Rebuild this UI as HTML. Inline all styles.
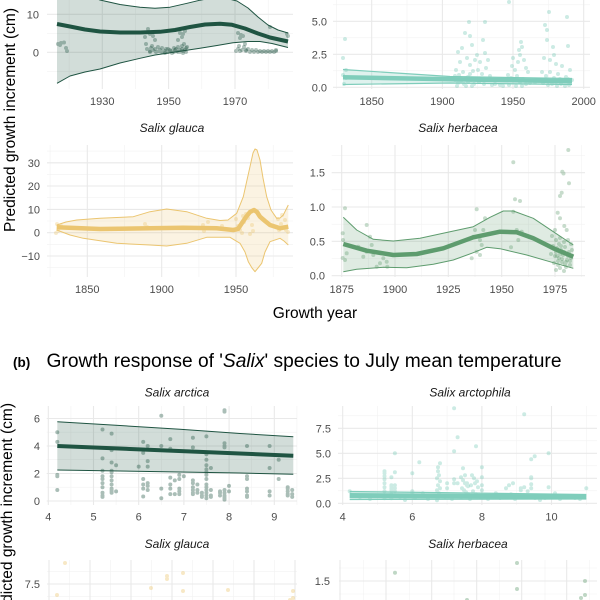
<!DOCTYPE html>
<html><head><meta charset="utf-8"><style>
html,body{margin:0;padding:0;background:#fff;}
svg{display:block;}
text{font-family:"Liberation Sans",Arial,sans-serif;}
.t{font-size:11px;fill:#4d4d4d;}
.s{font-size:12px;fill:#1a1a1a;font-style:italic;}
.gM{stroke:#e9e9e9;stroke-width:1.1;fill:none;}
.gm{stroke:#f2f2f2;stroke-width:0.6;fill:none;}
</style></head><body>
<svg width="600" height="600" viewBox="0 0 600 600" xmlns="http://www.w3.org/2000/svg">
<rect width="600" height="600" fill="#fff"/>

<!-- ========== A1: Salix arctica vs year ========== -->
<g>
<path class="gm" d="M47 -4.7H293M47 33.3H293M47 71.3H293M69.1 0V89M135.5 0V89M201.8 0V89M268.2 0V89"/>
<path class="gM" d="M47 14.3H293M47 52.3H293M102.3 0V89M168.6 0V89M235 0V89"/>
<g stroke="#1f5442" stroke-opacity="0.35" stroke-width="4" stroke-linecap="round" fill="none">
<path d="M58 44h0M61 43h0M64 42.5h0M66 48h0M67 51h0M60 45h0M145 37h0M150 34h0M153 36h0M148 29h0M155 40h0M183 34h0M185 31h0M182 37h0M178 40h0M180 33h0M146 44h0M152 46h0M158 47h0M162 48h0M166 49h0M170 50h0M174 48h0M178 47h0M182 49h0M186 48h0M238 33h0M241 35h0M240 38h0M243 36h0M270 27h0M287 34h0M288 36h0M239 46h0M244 47h0M248 49h0M252 50h0M256 50h0M260 51h0M264 51h0M268 51h0M272 51h0M276 51h0"/>
<path d="M147 49h0M150 51h0M153 50h0M156 52h0M159 51h0M162 52h0M165 51h0M168 52h0M171 51h0M174 52h0M177 51h0M180 50h0M183 51h0M186 52h0M187 47h0M184 44h0M160 50h0M168 49h0M176 49h0M151 48h0M238 49h0M242 50h0M246 51h0M250 52h0M254 52h0M258 52h0M262 52h0M266 52h0M270 52h0M274 52h0M276 50h0M236 51h0M245 44h0"/>
<path d="M180 52h0M183 53h0M185 50h0M178 52h0M172 53h0M165 53h0M150 52h0M155 49h0M246 50h0M240 51h0M182 46h0M175 50h0"/>
</g>
<path fill="#1f5442" fill-opacity="0.2" stroke="none" d="M57 -31L70 -16L85 -6L100 0L120 4.5L140 7.3L155 8.3L170 7.2L187 3.3L200 0.2L212 -2L225 -2L237 1L248 8L258 17L268 25L278 30L288 33L288 47.5L272 43.5L260 41.5L248 41.5L233 42.7L217 45.5L200 48.3L185 50.5L167 53.3L155 55L140 58.3L120 63L100 69L85 72L70 76L57 83.3Z"/>
<g fill="none" stroke="#1f5442" stroke-linejoin="round">
<path stroke-width="1" d="M57 -31L70 -16L85 -6L100 0L120 4.5L140 7.3L155 8.3L170 7.2L187 3.3L200 0.2L212 -2L225 -2L237 1L248 8L258 17L268 25L278 30L288 33"/>
<path stroke-width="1" d="M57 83.3L70 76L85 72L100 69L120 63L140 58.3L155 55L167 53.3L185 50.5L200 48.3L217 45.5L233 42.7L248 41.5L260 41.5L272 43.5L288 47.5"/>
<path stroke-width="4" d="M57 24L70 26.5L85 29.5L100 31.5L120 32.5L140 32.5L160 31.8L175 30L190 27L205 24.5L220 23.7L232 24.8L245 28.5L258 33.5L270 37.5L288 41.5"/>
</g>
<text class="t" x="39" y="18.3" text-anchor="end">10</text>
<text class="t" x="39" y="56.3" text-anchor="end">0</text>
<text class="t" x="102.3" y="105" text-anchor="middle">1930</text>
<text class="t" x="168.6" y="105" text-anchor="middle">1950</text>
<text class="t" x="235" y="105" text-anchor="middle">1970</text>
</g>

<!-- ========== A2: Salix arctophila vs year ========== -->
<g>
<path class="gm" d="M333 4.8H590M333 37.8H590M333 70.8H590M336.4 0V89M407 0V89M477.7 0V89M548.3 0V89"/>
<path class="gM" d="M333 21.3H590M333 54.3H590M333 87.3H590M371.7 0V89M442.4 0V89M513 0V89M583.7 0V89"/>
<g stroke="#7fcdbb" stroke-opacity="0.4" stroke-width="4" stroke-linecap="round" fill="none">
<path d="M343 58h0M345 39h0M346 70h0M343 75h0M346 78h0M344 84h0M465 33h0M469 22h0M470 36h0M472 45h0M462 48h0M458 52h0M467 58h0M475 60h0M460 62h0M470 65h0M477 55h0M456 70h0M459 75h0M463 72h0M466 78h0M470 74h0M473 71h0M455 80h0M458 83h0M461 81h0M464 84h0M468 82h0M471 80h0M474 84h0M457 86h0M466 86h0M472 86h0M485 22h0M483 40h0M485 53h0M480 62h0M488 60h0M478 70h0M482 74h0M486 68h0M490 76h0M479 82h0M484 84h0M489 80h0M492 85h0M509 2h0M521 42h0M522 47h0M520 55h0M518 62h0M524 60h0M512 66h0M515 70h0M526 68h0M528 72h0M508 75h0M511 78h0M514 80h0M517 76h0M520 82h0M523 79h0M526 84h0M509 85h0M516 86h0M522 86h0M513 58h0M519 50h0"/>
<path d="M549 12h0M545 25h0M547 30h0M547 40h0M553 47h0M554 55h0M567 17h0M568 46h0M550 60h0M556 64h0M544 58h0M562 66h0M570 70h0M542 72h0M546 76h0M550 72h0M554 78h0M558 74h0M562 80h0M566 77h0M570 82h0M543 83h0M548 85h0M552 84h0M557 86h0M561 84h0M565 86h0M569 85h0M572 80h0M538 80h0M535 82h0M530 83h0M495 84h0M500 85h0M503 86h0M455 76h0M460 78h0M468 77h0M475 79h0M550 81h0M556 82h0M560 79h0M564 81h0M568 79h0"/>
</g>
<path fill="#7fcdbb" fill-opacity="0.25" d="M343 69.5L450 76.5L572 78.5L572 84.5L450 83L343 84.5Z"/>
<g fill="none" stroke="#7fcdbb">
<path stroke-width="1.2" d="M343 69.5L450 76.5L572 78.5"/>
<path stroke-width="1.2" d="M343 84.5L450 83L572 84.5"/>
<path stroke-width="4.5" d="M343 77.3L572 81.3"/>
</g>
<text class="t" x="327" y="25.3" text-anchor="end">5.0</text>
<text class="t" x="327" y="58.3" text-anchor="end">2.5</text>
<text class="t" x="327" y="91.3" text-anchor="end">0.0</text>
<text class="t" x="371.7" y="105" text-anchor="middle">1850</text>
<text class="t" x="442.4" y="105" text-anchor="middle">1900</text>
<text class="t" x="513" y="105" text-anchor="middle">1950</text>
<text class="t" x="583.7" y="105" text-anchor="middle">2000</text>
</g>

<!-- strip titles row 2 (a) -->
<text class="s" x="172" y="132" text-anchor="middle">Salix glauca</text>
<text class="s" x="458" y="132" text-anchor="middle">Salix herbacea</text>

<!-- ========== A3: Salix glauca vs year ========== -->
<g>
<path class="gm" d="M47 151.1H293M47 174.4H293M47 197.7H293M47 221H293M47 244.4H293M47 267.7H293M50.1 145V277M124.5 145V277M198.9 145V277M273.2 145V277"/>
<path class="gM" d="M47 162.8H293M47 186H293M47 209.4H293M47 232.7H293M47 256H293M87.3 145V277M161.7 145V277M236 145V277"/>
<g stroke="#ebc570" stroke-opacity="0.35" stroke-width="4" stroke-linecap="round" fill="none">
<path d="M57 224h0M59 228h0M58 231h0M61 226h0M56 233h0M145 224h0M147 227h0M203 225h0M206 228h0M208 222h0M204 231h0M222 226h0M224 229h0M236 219h0M238 226h0M240 230h0M242 233h0M244 222h0M246 214h0M248 218h0M252 225h0M253 231h0M250 234h0M243 216h0M278 219h0M281 224h0M284 227h0M286 230h0M288 232h0M279 230h0M282 215h0M285 220h0"/>
</g>
<path fill="#ebc570" fill-opacity="0.2" d="M56.7 225L66 222L76.7 220L100 218.3L133.3 216.7L150 211.7L166.7 209L186.7 211.7L206.7 218.3L220 220.5L228 220L236.7 213.3L243.3 196.7L247 180L250 166.7L253 153L255 149L257 150L260 160L263 178L266.7 196.7L271 210L276.7 218.3L280 218L283.3 215L288.3 205L288.3 245L284 241L280 238.3L270 241.7L265 252L261.7 263.3L258 268L255 271.7L252 268L248.3 261.7L245 252L240 243.3L230 237.3L206.7 237.3L186.7 243.3L166.7 246L150 245L116.7 243.3L83.3 238.3L70 235L56.7 230Z"/>
<g fill="none" stroke="#ebc570" stroke-linejoin="round">
<path stroke-width="1" d="M56.7 225L66 222L76.7 220L100 218.3L133.3 216.7L150 211.7L166.7 209L186.7 211.7L206.7 218.3L220 220.5L228 220L236.7 213.3L243.3 196.7L247 180L250 166.7L253 153L255 149L257 150L260 160L263 178L266.7 196.7L271 210L276.7 218.3L280 218L283.3 215L288.3 205"/>
<path stroke-width="1" d="M56.7 230L70 235L83.3 238.3L116.7 243.3L150 245L166.7 246L186.7 243.3L206.7 237.3L230 237.3L240 243.3L245 252L248.3 261.7L252 268L255 271.7L258 268L261.7 263.3L265 252L270 241.7L280 238.3L284 241L288.3 245"/>
<path stroke-width="4.5" d="M56.7 227.3L100 229L150 228.3L183.3 227.7L216.7 228.3L233.3 230L238 229L242 223L246 217L250 212L254 210L257 212L260 216.7L265 221L270 225L280 228.3L288.3 226.7"/>
</g>
<text class="t" x="40" y="166.8" text-anchor="end">30</text>
<text class="t" x="40" y="190" text-anchor="end">20</text>
<text class="t" x="40" y="213.4" text-anchor="end">10</text>
<text class="t" x="40" y="236.7" text-anchor="end">0</text>
<text class="t" x="40" y="260" text-anchor="end">−10</text>
<text class="t" x="87.3" y="293" text-anchor="middle">1850</text>
<text class="t" x="161.7" y="293" text-anchor="middle">1900</text>
<text class="t" x="236" y="293" text-anchor="middle">1950</text>
</g>

<!-- ========== A4: Salix herbacea vs year ========== -->
<g>
<path class="gm" d="M331.7 155.5H585M331.7 189.8H585M331.7 224.2H585M331.7 258.5H585M368.3 145V277M421.7 145V277M475 145V277M528.3 145V277M581.7 145V277"/>
<path class="gM" d="M331.7 172.7H585M331.7 207H585M331.7 241.3H585M331.7 275.7H585M341.7 145V277M395 145V277M448.3 145V277M501.7 145V277M555 145V277"/>
<g stroke="#5e9c6e" stroke-opacity="0.35" stroke-width="4" stroke-linecap="round" fill="none">
<path d="M345 208.3h0M342.7 233.3h0M343 240h0M346.7 253.3h0M345 260h0M342.7 258h0M366.7 225h0M370 236.7h0M371.7 245h0M366.7 251.7h0M373.3 255h0M363.3 256.7h0M380 263.3h0M383.3 258.3h0M376.7 266.7h0M387.3 266.7h0M358.3 246.7h0M386.7 261.7h0M476.7 209.3h0M485 218.3h0M473.3 236.7h0M480 240h0M481.7 245h0M476.7 251.7h0M471.7 258.3h0M480 255h0M483.3 230h0M475 230h0M513.3 162.3h0M515 199.3h0M520 201h0M513.3 211.7h0M516.7 230h0M521.7 231.7h0M511 247.3h0M518.3 240h0"/>
<path d="M568.3 150h0M562.3 171.7h0M563.5 173.5h0M569 183.3h0M561.7 192.7h0M560 196h0M557.7 212.7h0M560 218.3h0M564.3 226h0M566.7 230h0M555 230h0M552 236h0M556 240h0M560 238h0M564 242h0M568 240h0M571 244h0M553 246h0M557 248h0M561 250h0M565 247h0M569 252h0M572 250h0M551 254h0M555 256h0M559 258h0M563 255h0M567 260h0M571 258h0M554 263h0M558 265h0M562 262h0M566 267h0M570 265h0M556 270h0M560 268h0M564 271h0"/>
<path d="M556 252h0M560 254h0M564 252h0M568 256h0M558 261h0M562 259h0M566 262h0M570 261h0M561 246h0M565 264h0M559 244h0M557 256h0"/>
</g>
<path fill="#5e9c6e" fill-opacity="0.2" d="M343.3 217.3L356.7 230L373.3 239.3L393.3 241L420 238.3L450 231.7L473.3 226.7L490 217.3L503.3 211L513.3 211L533.3 218.3L553.3 231.7L573.3 245L573.3 268.3L553.3 262.7L526.7 255L500 248.7L486.7 247.3L473.3 252.7L453.3 260L433.3 264.3L406.7 267.7L383.3 267.3L356.7 269.3L343.3 271.7Z"/>
<g fill="none" stroke="#5e9c6e" stroke-linejoin="round">
<path stroke-width="1" d="M343.3 217.3L356.7 230L373.3 239.3L393.3 241L420 238.3L450 231.7L473.3 226.7L490 217.3L503.3 211L513.3 211L533.3 218.3L553.3 231.7L573.3 245"/>
<path stroke-width="1" d="M343.3 271.7L356.7 269.3L383.3 267.3L406.7 267.7L433.3 264.3L453.3 260L473.3 252.7L486.7 247.3L500 248.7L526.7 255L553.3 262.7L573.3 268.3"/>
<path stroke-width="4.5" d="M343.3 244L366.7 250.7L393.3 255L416.7 254L443.3 248.3L473.3 237.3L500 231.7L516.7 232.3L533.3 238.3L553.3 248.3L573.3 256.7"/>
</g>
<text class="t" x="325" y="176.7" text-anchor="end">1.5</text>
<text class="t" x="325" y="211" text-anchor="end">1.0</text>
<text class="t" x="325" y="245.3" text-anchor="end">0.5</text>
<text class="t" x="325" y="279.7" text-anchor="end">0.0</text>
<text class="t" x="341.7" y="293" text-anchor="middle">1875</text>
<text class="t" x="395" y="293" text-anchor="middle">1900</text>
<text class="t" x="448.3" y="293" text-anchor="middle">1925</text>
<text class="t" x="501.7" y="293" text-anchor="middle">1950</text>
<text class="t" x="555" y="293" text-anchor="middle">1975</text>
</g>

<!-- axis titles (a) -->
<text x="315" y="318" text-anchor="middle" font-size="15.5" fill="#000">Growth year</text>
<text transform="translate(15,120) rotate(-90)" text-anchor="middle" font-size="15.5" fill="#000" textLength="224" lengthAdjust="spacingAndGlyphs">Predicted growth increment (cm)</text>

<!-- ========== (b) title ========== -->
<text x="13" y="367" font-size="13.5" font-weight="bold" fill="#000">(b)</text>
<text x="46.5" y="367" font-size="19" fill="#000" textLength="515" lengthAdjust="spacingAndGlyphs">Growth response of '<tspan font-style="italic">Salix</tspan>' species to July mean temperature</text>

<text class="s" x="177" y="396.5" text-anchor="middle">Salix arctica</text>
<text class="s" x="470" y="396.5" text-anchor="middle">Salix arctophila</text>

<!-- ========== B1: Salix arctica vs temp ========== -->
<g>
<path class="gm" d="M46.7 432.2H297M46.7 459.7H297M46.7 487.2H297M70.9 406V505M116.1 406V505M161.3 406V505M206.5 406V505M251.7 406V505M296.9 406V505"/>
<path class="gM" d="M46.7 418.5H297M46.7 446H297M46.7 473.5H297M46.7 501H297M48.3 406V505M93.5 406V505M138.7 406V505M183.9 406V505M229.1 406V505M274.3 406V505"/>
<g stroke="#1f5442" stroke-opacity="0.38" stroke-width="4" stroke-linecap="round" fill="none">
<path d="M57.3 432.3h0M57.3 441.9h0M57.3 476.3h0M57.3 474.9h0M57.3 490h0M102.5 429.5h0M102.5 458.4h0M102.5 470.8h0M102.5 476.3h0M102.5 479h0M102.5 483.1h0M102.5 487.3h0M102.5 492.8h0M102.5 495.5h0M102.5 496.9h0M111.6 433.6h0M111.6 450.1h0M111.6 462.5h0M111.6 470.8h0M111.6 472.1h0M111.6 476.3h0M111.6 480.4h0M111.6 484.5h0M111.6 488.6h0M111.6 490h0M111.6 491.4h0M111.6 492.8h0M116.1 465.3h0M116.1 491.4h0M138.7 466.6h0M143.2 441.9h0M143.2 452.9h0M143.2 479h0M143.2 484.5h0M143.2 488.6h0M143.2 496.5h0M147.7 446h0M147.7 461.1h0M147.7 466.6h0M147.7 483.1h0M147.7 485.9h0M147.7 490h0M161.3 415.7h0M161.3 446h0M161.3 488.6h0M161.3 498.3h0M170.3 439.1h0M170.3 448.7h0M170.3 477.6h0M170.3 484.5h0M170.3 488.6h0M170.3 494.1h0M174.8 480.4h0M174.8 494.1h0M179.3 474.9h0M179.3 479h0M179.3 488.6h0M179.3 491.4h0M179.3 494.1h0M183.8 476.3h0"/>
<path d="M192.9 437.7h0M192.9 447.4h0M192.9 480.4h0M192.9 483.1h0M192.9 487.3h0M192.9 490h0M192.9 492.8h0M192.9 494.1h0M197.4 484.5h0M197.4 490h0M197.4 492.8h0M201.9 492.8h0M201.9 495.5h0M201.9 496.9h0M206.4 436.4h0M206.4 454.3h0M206.4 459.8h0M206.4 465.3h0M206.4 469.4h0M206.4 472.1h0M206.4 474.9h0M206.4 479h0M206.4 484.5h0M206.4 487.3h0M206.4 490h0M206.4 492.8h0M206.4 495.5h0M206.4 498.3h0M210.9 468h0M210.9 490h0M210.9 495.5h0M210.9 496.9h0M220 491.4h0M220 492.8h0M220 495.5h0M224.5 410.3h0M224.5 411.6h0M224.5 443.3h0M224.5 446h0M224.5 447.4h0M224.5 490h0M224.5 492.8h0M224.5 495.5h0M224.5 496.9h0M224.5 498.3h0M224.5 499.6h0M229 485.9h0M229 491.4h0M247 446h0M247 476.3h0M247 479h0M247 488.6h0M247 491.4h0M247 495.5h0M247 496.9h0M269.6 446h0M269.6 468h0M269.6 491.4h0M269.6 495.5h0M278.7 459.8h0M278.7 479h0M287.7 487.3h0M287.7 488.6h0M287.7 491.4h0M287.7 494.1h0M287.7 495.5h0M292.2 490h0M292.2 494.1h0M292.2 496.9h0"/>
</g>
<path fill="#1f5442" fill-opacity="0.2" d="M57.3 421.7L120 425.5L180 429.3L240 433.5L293.3 436.7L293.3 474.3L240 473L180 472L120 471L57.3 470Z"/>
<g fill="none" stroke="#1f5442">
<path stroke-width="1" d="M57.3 421.7L120 425.5L180 429.3L240 433.5L293.3 436.7"/>
<path stroke-width="1" d="M57.3 470L120 471L180 472L240 473L293.3 474.3"/>
<path stroke-width="4" d="M57.3 446L293.3 455.7"/>
</g>
<text class="t" x="40" y="422.5" text-anchor="end">6</text>
<text class="t" x="40" y="450" text-anchor="end">4</text>
<text class="t" x="40" y="477.5" text-anchor="end">2</text>
<text class="t" x="40" y="505" text-anchor="end">0</text>
<text class="t" x="48.3" y="520.7" text-anchor="middle">4</text>
<text class="t" x="93.5" y="520.7" text-anchor="middle">5</text>
<text class="t" x="138.7" y="520.7" text-anchor="middle">6</text>
<text class="t" x="183.9" y="520.7" text-anchor="middle">7</text>
<text class="t" x="229.1" y="520.7" text-anchor="middle">8</text>
<text class="t" x="274.3" y="520.7" text-anchor="middle">9</text>
</g>

<!-- ========== B2: Salix arctophila vs temp ========== -->
<g>
<path class="gm" d="M338 415.8H597M338 440.8H597M338 465.8H597M338 490.8H597M377.5 406V505M447.1 406V505M516.7 406V505M586.3 406V505"/>
<path class="gM" d="M338 428.3H597M338 453.3H597M338 478.3H597M338 503.3H597M342.7 406V505M412.3 406V505M481.9 406V505M551.5 406V505"/>
<g stroke="#7fcdbb" stroke-opacity="0.4" stroke-width="4" stroke-linecap="round" fill="none">
<path d="M349.7 491.3h0M384.5 471.3h0M384.5 473.3h0M384.5 476.3h0M384.5 479.3h0M384.5 483.3h0M384.5 487.3h0M384.5 491.3h0M384.5 495.3h0M384.5 498.3h0M391.4 477.3h0M391.4 485.3h0M391.4 486.3h0M391.4 488.3h0M391.4 490.3h0M391.4 494.3h0M391.4 498.3h0M394.9 453.3h0M394.9 472.3h0M394.9 485.3h0M394.9 488.3h0M394.9 491.3h0M412.3 473.3h0M412.3 493.3h0M412.3 491.3h0M412.3 495.3h0M419.3 462.3h0M422.8 493.3h0M422.8 495.3h0M438 471.3h0M440 463.3h0M438 467.3h0M439 475.3h0M437 478.3h0M440 481.3h0M438 485.3h0M440 488.3h0M437 490.3h0M439 493.3h0M440 495.3h0M438 498.3h0M437 500.3h0M447.1 483.3h0M447.1 488.3h0M454.1 408.3h0M454.1 451.3h0M454.1 479.3h0M454.1 483.3h0M457.6 437.3h0M457.6 483.3h0M461 477.3h0M463 480.3h0M465 483.3h0M467 485.3h0M462 488.3h0M464 490.3h0M466 492.3h0M468 494.3h0M461 497.3h0M463 468.3h0M465 475.3h0M467 483.3h0M468 486.3h0"/>
<path d="M476 446.3h0M472 475.3h0M474 478.3h0M477 481.3h0M475 483.3h0M478 487.3h0M473 491.3h0M476 494.3h0M471 485.3h0M481.9 467.3h0M481.9 477.3h0M481.9 485.3h0M481.9 490.3h0M495.8 493.3h0M506 488.3h0M509 485.3h0M513 483.3h0M511 494.3h0M520.8 488.3h0M520.8 490.3h0M524.2 414.3h0M524.2 487.3h0M527.7 491.3h0M531.2 459.3h0M531.2 477.3h0M531.2 478.3h0M531.2 484.3h0M531.2 488.3h0M534.7 456.3h0M548.6 453.3h0M548.6 487.3h0M548.6 496.3h0M555 495.3h0M555 493.3h0M586.3 488.3h0M360 497h0M370 499h0M400 497h0M405 500h0M415 498h0M428 499h0M445 497h0M452 499h0M458 496h0M470 499h0M480 497h0M488 499h0M500 498h0M515 499h0M520 497h0M535 498h0M540 500h0M545 498h0M560 499h0M565 497h0M575 498h0M580 499h0"/>
</g>
<path fill="#7fcdbb" fill-opacity="0.35" d="M349.7 491.5L586.3 494.5L586.3 499L349.7 499.5Z"/>
<g fill="none" stroke="#7fcdbb">
<path stroke-width="1.2" d="M349.7 491.5L586.3 494.5"/>
<path stroke-width="1.2" d="M349.7 499.5L586.3 499"/>
<path stroke-width="5" d="M349.7 495.5L586.3 497"/>
</g>
<text class="t" x="331" y="432.3" text-anchor="end">7.5</text>
<text class="t" x="331" y="457.3" text-anchor="end">5.0</text>
<text class="t" x="331" y="482.3" text-anchor="end">2.5</text>
<text class="t" x="331" y="507.3" text-anchor="end">0.0</text>
<text class="t" x="342.7" y="520.7" text-anchor="middle">4</text>
<text class="t" x="412.3" y="520.7" text-anchor="middle">6</text>
<text class="t" x="481.9" y="520.7" text-anchor="middle">8</text>
<text class="t" x="551.5" y="520.7" text-anchor="middle">10</text>
</g>

<text class="s" x="177" y="548" text-anchor="middle">Salix glauca</text>
<text class="s" x="468" y="548" text-anchor="middle">Salix herbacea</text>

<!-- ========== B3: Salix glauca vs temp ========== -->
<g>
<path class="gm" d="M47 571.7H297M47 596.3H297M69.5 560V600M110.5 560V600M151.5 560V600M192.5 560V600M233.5 560V600M274.5 560V600"/>
<path class="gM" d="M47 584H297M49 560V600M90 560V600M131 560V600M172 560V600M213 560V600M254 560V600M295 560V600"/>
<g stroke="#ebc570" stroke-opacity="0.4" stroke-width="4" stroke-linecap="round" fill="none">
<path d="M65 563h0M167 576h0M167 579h0M183 573h0M151 588h0M57 595h0M183 591h0M228 590h0M293 591h0M293 598h0M290 600h0"/>
</g>
<text class="t" x="40" y="588" text-anchor="end">7.5</text>
</g>

<!-- ========== B4: Salix herbacea vs temp ========== -->
<g>
<path class="gm" d="M339 568H597M339 594H597M363.3 560V600M409.3 560V600M454 560V600M499.3 560V600M545 560V600M589.3 560V600"/>
<path class="gM" d="M339 581H597M340 560V600M386 560V600M431.7 560V600M476.7 560V600M521.7 560V600M566.7 560V600"/>
<g stroke="#5e9c6e" stroke-opacity="0.4" stroke-width="4" stroke-linecap="round" fill="none">
<path d="M395 572.7h0M517 563h0M517 589h0M585 581h0M585 595h0M581 598h0M467 600h0"/>
</g>
<text class="t" x="330" y="585" text-anchor="end">1.5</text>
</g>

<!-- (b) y axis title -->
<text transform="translate(12,515) rotate(-90)" text-anchor="middle" font-size="15.5" fill="#000" textLength="224" lengthAdjust="spacingAndGlyphs">Predicted growth increment (cm)</text>
</svg>
</body></html>
